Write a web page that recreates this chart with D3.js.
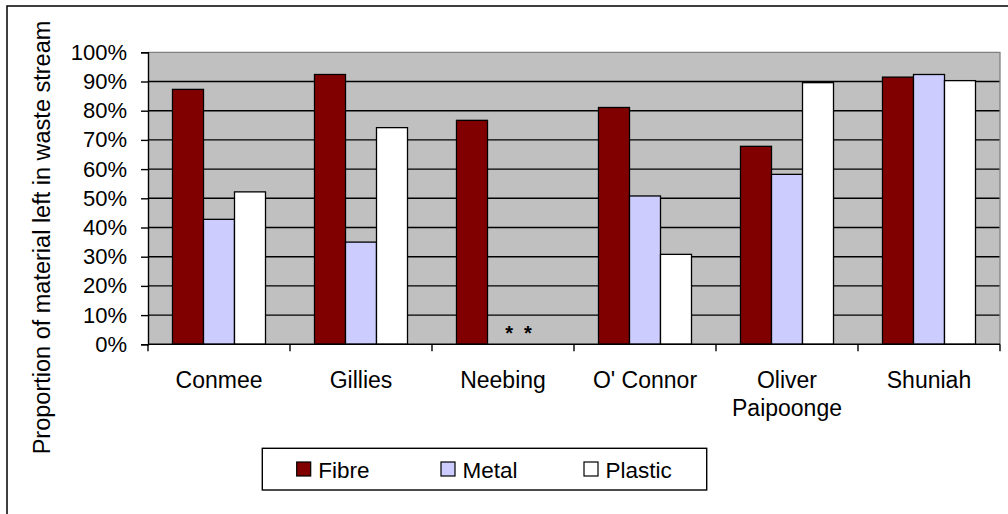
<!DOCTYPE html>
<html>
<head>
<meta charset="utf-8">
<script src="https://cdn.jsdelivr.net/npm/d3@7/dist/d3.min.js"></script>
<style>
  html, body { margin: 0; padding: 0; background: #fff; }
  svg { display: block; font-family: Arial, "Liberation Sans", sans-serif; }
</style>
</head>
<body>
<svg id="chart" width="1008" height="514"></svg>
<script>
const categories = ["Conmee", "Gillies", "Neebing", "O' Connor", "Oliver Paipoonge", "Shuniah"];
const seriesNames = ["Fibre", "Metal", "Plastic"];
const fibre   = [87.3, 92.4, 76.7, 81.1, 67.8, 91.5];
const metal   = [42.8, 35.0, null, 50.8, 58.2, 92.4];
const plastic = [52.2, 74.2, null, 30.8, 89.6, 90.3];
const yTicks = [0, 10, 20, 30, 40, 50, 60, 70, 80, 90, 100];
const missingNote = { category: "Neebing", text: "*  *" };

const colors = { Fibre: "#800000", Metal: "#CCCCFF", Plastic: "#FFFFFF" };
const seriesValues = { Fibre: fibre, Metal: metal, Plastic: plastic };

const svg = d3.select("#chart");
const plot = { left: 148, right: 1000, top: 52.3, bottom: 344.3 };

// outer chart border
svg.append("rect")
  .attr("x", 7).attr("y", 6).attr("width", 1020).attr("height", 530)
  .attr("fill", "#fff").attr("stroke", "#000").attr("stroke-width", 1.5);

const x0 = d3.scaleBand().domain(categories)
  .range([plot.left, plot.right]).paddingInner(0.345).paddingOuter(0.1725);
const x1 = d3.scaleBand().domain(seriesNames).range([0, x0.bandwidth()]);
const y = d3.scaleLinear().domain([0, 100]).range([plot.bottom, plot.top]);

// plot background
svg.append("rect")
  .attr("x", plot.left).attr("y", plot.top)
  .attr("width", plot.right - plot.left).attr("height", plot.bottom - plot.top)
  .attr("fill", "#C0C0C0");

// gridlines
svg.append("g").selectAll("line").data(yTicks.filter(d => d > 0 && d < 100)).join("line")
  .attr("x1", plot.left).attr("x2", plot.right)
  .attr("y1", d => y(d)).attr("y2", d => y(d))
  .attr("stroke", "#000").attr("stroke-width", 1.4);

// plot border top/right (gray)
svg.append("path")
  .attr("d", `M${plot.left},${plot.top}H${plot.right}V${plot.bottom}`)
  .attr("fill", "none").attr("stroke", "#808080").attr("stroke-width", 1.3);

// bars
const groups = svg.append("g").selectAll("g").data(categories).join("g")
  .attr("transform", d => `translate(${x0(d)},0)`);
groups.selectAll("rect")
  .data((c, i) => seriesNames.map(s => ({ s, v: seriesValues[s][i] })).filter(d => d.v != null))
  .join("rect")
  .attr("x", d => x1(d.s)).attr("width", x1.bandwidth())
  .attr("y", d => y(d.v)).attr("height", d => y(0) - y(d.v))
  .attr("fill", d => colors[d.s]).attr("stroke", "#000").attr("stroke-width", 1.3);

// missing data note
svg.append("text")
  .attr("x", x0(missingNote.category) + x1("Plastic"))
  .attr("y", y(0) - 4)
  .attr("text-anchor", "middle")
  .attr("font-size", 20).attr("font-weight", "bold")
  .style("white-space", "pre")
  .text(missingNote.text);

// y axis
const yAxis = svg.append("g").attr("transform", `translate(${plot.left},0)`)
  .call(d3.axisLeft(y).tickValues(yTicks).tickSize(7).tickPadding(14)
    .tickFormat(d => d + "%"));
yAxis.select(".domain").attr("stroke", "#000").attr("stroke-width", 1.4);
yAxis.selectAll(".tick line").attr("stroke", "#000").attr("stroke-width", 1.4);
yAxis.selectAll("text").attr("font-size", 22).attr("fill", "#000")
  .attr("font-family", "Arial, 'Liberation Sans', sans-serif");

// x axis line
svg.append("line").attr("x1", plot.left).attr("x2", plot.right)
  .attr("y1", y(0)).attr("y2", y(0)).attr("stroke", "#000").attr("stroke-width", 1.4);
// boundary ticks
const boundaries = categories.map(c => x0(c) - x0.step() * x0.paddingInner() / 2 - 0)
  .map((b, i) => plot.left + i * x0.step());
boundaries.push(plot.right);
svg.append("g").selectAll("line").data(boundaries).join("line")
  .attr("x1", d => d).attr("x2", d => d)
  .attr("y1", y(0)).attr("y2", y(0) + 7)
  .attr("stroke", "#000").attr("stroke-width", 1.4);

// x labels
const xl = svg.append("g").selectAll("text").data(categories).join("text")
  .attr("x", d => x0(d) + x0.bandwidth() / 2)
  .attr("y", y(0) + 44)
  .attr("text-anchor", "middle").attr("font-size", 23).attr("fill", "#000");
xl.each(function(d) {
  const t = d3.select(this);
  t.text(d);
  if (this.getComputedTextLength() > x0.step()) {
    t.text(null);
    d.split(" ").forEach((w, i) => {
      t.append("tspan").attr("x", x0(d) + x0.bandwidth() / 2)
        .attr("dy", i === 0 ? 0 : 28).text(w);
    });
  }
});

// y title
svg.append("text")
  .attr("transform", `translate(50,237.5) rotate(-90)`)
  .attr("text-anchor", "middle").attr("font-size", 23.5).attr("fill", "#000")
  .text("Proportion of material left in waste stream");

// legend
const legend = svg.append("g");
legend.append("rect").attr("x", 262.3).attr("y", 448.3).attr("width", 444.4).attr("height", 41.7)
  .attr("fill", "#fff").attr("stroke", "#000").attr("stroke-width", 1.4);
const legendX = [296.7, 441, 584];
const items = legend.selectAll("g").data(seriesNames).join("g")
  .attr("transform", (d, i) => `translate(${legendX[i]},0)`);
items.append("rect").attr("x", 0).attr("y", 462).attr("width", 14).attr("height", 14)
  .attr("fill", d => colors[d]).attr("stroke", "#000").attr("stroke-width", 1.2);
items.append("text").attr("x", 21.5).attr("y", 477.7).attr("font-size", 22.5).attr("fill", "#000")
  .text(d => d);
</script>
</body>
</html>
